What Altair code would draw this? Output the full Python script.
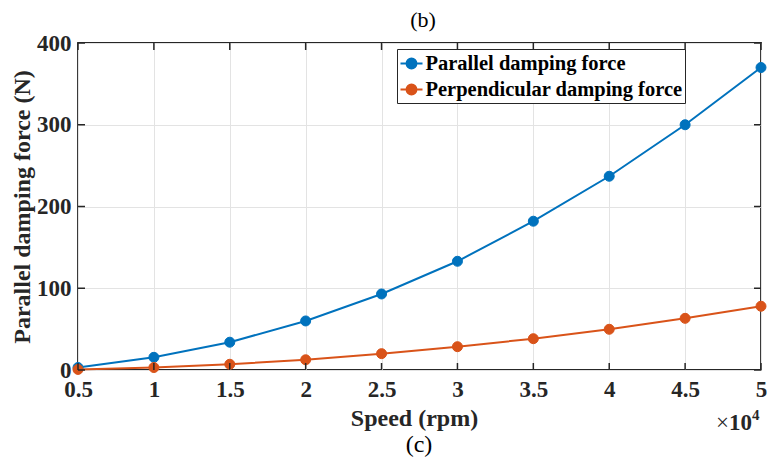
import altair as alt
import pandas as pd

speed_rpm = [5000, 10000, 15000, 20000, 25000, 30000, 35000, 40000, 45000, 50000]
parallel_force = [3, 15.5, 34, 60, 93, 133, 182, 237, 300, 370]
perpendicular_force = [0.7, 3, 7, 12.5, 20, 28.5, 38.3, 49.8, 63.2, 78]
series_names = ["Parallel damping force", "Perpendicular damping force"]
series_colors = ["#0072BD", "#D95319"]
x_ticks = [0.5, 1, 1.5, 2, 2.5, 3, 3.5, 4, 4.5, 5]
y_ticks = [0, 100, 200, 300, 400]

W, H = 683, 327
FONT = "Liberation Serif"
AX = "#262626"

rows = []
for s, p, q in zip(speed_rpm, parallel_force, perpendicular_force):
    rows.append({"speed": s, "force": p, "series": series_names[0]})
    rows.append({"speed": s, "force": q, "series": series_names[1]})
df = pd.DataFrame(rows)

xscale = alt.Scale(domain=[0.5, 5], nice=False, zero=False)
yscale = alt.Scale(domain=[0, 400], nice=False)
cscale = alt.Scale(domain=series_names, range=series_colors)

base = alt.Chart(df).transform_calculate(sx="datum.speed / 10000")

legend_path = ("M-1,0L1,0M-0.45,0A0.45,0.45,0,1,0,0.45,0"
               "A0.45,0.45,0,1,0,-0.45,0Z")


def make_legend():
    return alt.Legend(title=None, orient="none", legendX=319, legendY=6,
                      symbolType=legend_path, symbolSize=484,
                      symbolStrokeWidth=2,
                      labelFont=FONT, labelFontSize=20.5,
                      labelFontWeight="bold", labelColor="#000",
                      labelLimit=600, labelOffset=2, rowPadding=3,
                      padding=2.5, strokeColor=AX, fillColor="white")


line = base.mark_line(strokeWidth=2).encode(
    x=alt.X("sx:Q", scale=xscale,
            axis=alt.Axis(values=x_ticks, format="~g", title="Speed (rpm)",
                          grid=True, gridColor="#e3e3e3", gridWidth=1,
                          domain=False, ticks=False, labelPadding=8,
                          labelFlush=False, labelOverlap=False,
                          titleX=336, titleY=55, titleBaseline="alphabetic",
                          titleAnchor="middle")),
    y=alt.Y("force:Q", scale=yscale,
            axis=alt.Axis(values=y_ticks, format="d",
                          title="Parallel damping force (N)",
                          grid=True, gridColor="#e3e3e3", gridWidth=1,
                          domain=False, ticks=False, labelPadding=7,
                          labelFlush=False, labelOverlap=False,
                          titleX=-56, titleY=H / 2, titleAngle=-90,
                          titleBaseline="middle", titleAnchor="middle")),
    stroke=alt.Stroke("series:N", scale=cscale, legend=make_legend()),
)

points = base.mark_point(filled=False, size=100, opacity=1, strokeWidth=1).encode(
    x="sx:Q",
    y="force:Q",
    stroke=alt.Stroke("series:N", scale=cscale, legend=make_legend()),
    fill=alt.Fill("series:N", scale=cscale, legend=make_legend()),
)

xt = alt.Chart(pd.DataFrame({"t": x_ticks}))
yt = alt.Chart(pd.DataFrame({"t": y_ticks}))
tick_len = 7
xticks_bottom = xt.mark_rule(color=AX, strokeWidth=1.5).encode(
    x=alt.X("t:Q", scale=xscale), y=alt.value(H), y2=alt.value(H - tick_len))
xticks_top = xt.mark_rule(color=AX, strokeWidth=1.5).encode(
    x=alt.X("t:Q", scale=xscale), y=alt.value(0), y2=alt.value(tick_len))
yticks_left = yt.mark_rule(color=AX, strokeWidth=1.5).encode(
    y=alt.Y("t:Q", scale=yscale), x=alt.value(0), x2=alt.value(tick_len))
yticks_right = yt.mark_rule(color=AX, strokeWidth=1.5).encode(
    y=alt.Y("t:Q", scale=yscale), x=alt.value(W), x2=alt.value(W - tick_len))

label_b = alt.Chart(pd.DataFrame({"label": ["(b)"]})).mark_text(
    font=FONT, fontSize=22, color="#000", align="center", baseline="alphabetic"
).encode(text="label:N", x=alt.value(345), y=alt.value(-16))
label_c = alt.Chart(pd.DataFrame({"label": ["(c)"]})).mark_text(
    font=FONT, fontSize=24, color="#000", align="center", baseline="alphabetic"
).encode(text="label:N", x=alt.value(341), y=alt.value(409))
exp_x = alt.Chart(pd.DataFrame({"label": ["×"]})).mark_text(
    font=FONT, fontSize=23, color=AX, align="right", baseline="alphabetic"
).encode(text="label:N", x=alt.value(651), y=alt.value(387))
exp10 = alt.Chart(pd.DataFrame({"label": ["10"]})).mark_text(
    font=FONT, fontSize=23, fontWeight="bold", color=AX, align="right",
    baseline="alphabetic"
).encode(text="label:N", x=alt.value(674), y=alt.value(387))
exp4 = alt.Chart(pd.DataFrame({"label": ["4"]})).mark_text(
    font=FONT, fontSize=15, fontWeight="bold", color=AX, align="left",
    baseline="alphabetic"
).encode(text="label:N", x=alt.value(674), y=alt.value(377))

chart = alt.layer(
    line, points, xticks_bottom, xticks_top, yticks_left, yticks_right,
    label_b, label_c, exp_x, exp10, exp4
).properties(
    width=W, height=H,
    autosize=alt.AutoSizeParams(type="none"),
    padding={"left": 70, "top": 35, "right": 6, "bottom": 89},
).configure_view(
    stroke=AX, strokeWidth=1.8
).configure_axis(
    labelFont=FONT, labelFontSize=23, labelFontWeight="bold", labelColor=AX,
    titleFont=FONT, titleFontSize=24, titleFontWeight="bold", titleColor=AX,
)

chart.save("out.html", embed_options={"renderer": "svg", "actions": False})
